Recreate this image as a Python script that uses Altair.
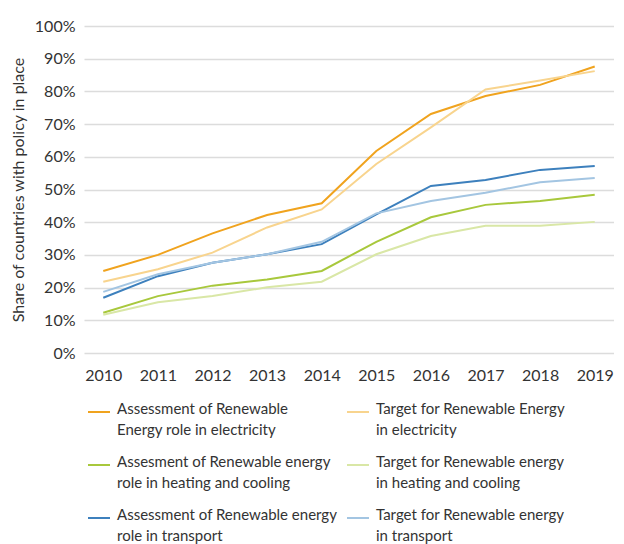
import altair as alt
import pandas as pd

years = ["2010", "2011", "2012", "2013", "2014", "2015", "2016", "2017", "2018", "2019"]
series_names = [
    "Assessment of Renewable\nEnergy role in electricity",
    "Target for Renewable Energy\nin electricity",
    "Assesment of Renewable energy\nrole in heating and cooling",
    "Target for Renewable energy\nin heating and cooling",
    "Assessment of Renewable energy\nrole in transport",
    "Target for Renewable energy\nin transport",
]
assess_elec = [25.1, 30.0, 36.6, 42.2, 45.8, 61.8, 73.1, 78.6, 82.0, 87.6]
target_elec = [21.8, 25.6, 30.7, 38.4, 43.9, 57.8, 69.0, 80.6, 83.3, 86.2]
assess_heat = [12.3, 17.4, 20.6, 22.5, 25.1, 34.0, 41.5, 45.3, 46.5, 48.4]
target_heat = [11.7, 15.5, 17.4, 20.1, 21.8, 30.2, 35.8, 38.9, 38.9, 40.1]
assess_trans = [16.9, 23.5, 27.6, 30.2, 33.3, 42.4, 51.1, 52.9, 56.0, 57.2]
target_trans = [18.7, 24.1, 27.6, 30.2, 34.0, 42.7, 46.5, 49.0, 52.2, 53.5]
colors = ["#F0A31E", "#F8D48E", "#A8C83C", "#D9E7A6", "#3D80BD", "#A3C5E2"]
draw_order = [1, 3, 5, 0, 2, 4]

all_values = [assess_elec, target_elec, assess_heat, target_heat, assess_trans, target_trans]
rows = []
for i, (name, vals) in enumerate(zip(series_names, all_values)):
    for y, v in zip(years, vals):
        rows.append({"series": name, "year": y, "value": v / 100, "order": draw_order[i]})
df = pd.DataFrame(rows)

FONT = "Lato"
TXT = "#333333"

color_scale = alt.Scale(domain=series_names, range=colors)

lines = alt.Chart(df).mark_line(strokeWidth=2).encode(
    x=alt.X("year:O", scale=alt.Scale(type="point", padding=0.353),
            axis=alt.Axis(title=None, labelAngle=0, ticks=False, domain=False,
                          labelPadding=14, labelFontSize=16, labelFont=FONT, labelColor=TXT)),
    y=alt.Y("value:Q", scale=alt.Scale(domain=[0, 1]),
            axis=alt.Axis(format=".0%", values=[i / 10 for i in range(11)], ticks=False, domain=False,
                          gridColor="#DCDCDC", gridWidth=1.5, labelPadding=9,
                          labelFontSize=16, labelFont=FONT, labelColor=TXT,
                          title="Share of countries with policy in place", titleFont=FONT,
                          titleFontSize=16, titleFontWeight="normal", titleColor=TXT, titlePadding=8)),
    color=alt.Color("series:N", scale=color_scale, legend=None),
    detail="series:N",
    order="order:Q",
).properties(width=530, height=327)

# Legend panel
leg_rows = []
for i, name in enumerate(series_names):
    leg_rows.append({"series": name, "col": i % 2, "row": i // 2})
leg = pd.DataFrame(leg_rows)

lx = alt.X("col:Q", scale=alt.Scale(domain=[0, 1], range=[15, 274]), axis=None)
ly = alt.Y("row:Q", scale=alt.Scale(domain=[0, 2], range=[15, 121]), axis=None)

sym = alt.Chart(leg).mark_point(shape="stroke", size=484, strokeWidth=2, opacity=1, filled=False).encode(
    x=lx, y=ly, color=alt.Color("series:N", scale=color_scale, legend=None))
txt = alt.Chart(leg).mark_text(align="left", baseline="top", dx=18, dy=-10, lineBreak="\n",
                               fontSize=15, font=FONT, color=TXT, lineHeight=21).encode(
    x=lx, y=ly, text="series:N")

legend = alt.layer(sym, txt).properties(width=530, height=130)

chart = alt.vconcat(lines, legend, spacing=14).properties(
    padding={"left": 2, "top": 10, "right": 0, "bottom": 0}
).configure_view(stroke=None)

chart.save("out.html", embed_options={"renderer": "svg", "actions": False})
